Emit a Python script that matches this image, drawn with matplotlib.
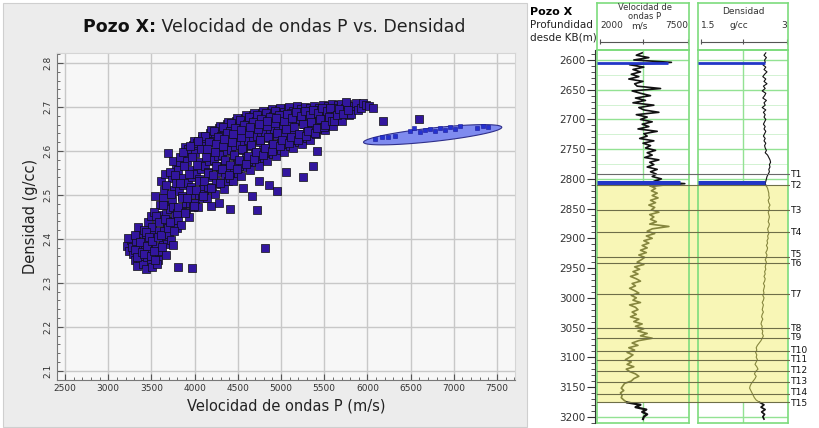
import numpy as np
import matplotlib.pyplot as plt
from matplotlib.patches import Rectangle
from matplotlib.ticker import MultipleLocator, FormatStrFormatter

# ---- crossplot: P-wave velocity (m/s) vs bulk density (g/cc) ----
vp_cloud = [
    3215, 3240, 3265, 3290, 3230, 3275,
    3305, 3320, 3340, 3355, 3370, 3385, 3310, 3345, 3395, 3330,
    3405, 3420, 3435, 3450, 3465, 3480, 3495, 3415, 3440, 3470, 3490, 3425,
    3505, 3520, 3535, 3550, 3565, 3580, 3595, 3510, 3545, 3570, 3590, 3525, 3560,
    3605, 3620, 3635, 3650, 3665, 3680, 3695, 3615, 3640, 3660, 3685, 3630, 3670, 3690,
    3705, 3720, 3735, 3750, 3765, 3780, 3795, 3710, 3740, 3770, 3790, 3725, 3745, 3755,
    3805, 3820, 3835, 3850, 3865, 3880, 3895, 3810, 3840, 3870, 3890, 3825, 3855, 3812,
    3905, 3920, 3935, 3950, 3965, 3980, 3995, 3910, 3940, 3970, 3990, 3925, 3955, 3985, 3965,
    4005, 4020, 4035, 4050, 4065, 4080, 4095, 4010, 4040, 4070, 4090, 4025, 4055, 4085,
    4105, 4120, 4135, 4150, 4165, 4180, 4195, 4110, 4140, 4170, 4190, 4125, 4155, 4185,
    4205, 4220, 4235, 4250, 4265, 4280, 4295, 4210, 4240, 4270, 4290, 4225, 4255, 4285,
    4305, 4320, 4335, 4350, 4365, 4380, 4395, 4310, 4340, 4370, 4390, 4325, 4355, 4385,
    4405, 4420, 4435, 4450, 4465, 4480, 4495, 4410, 4440, 4470, 4490, 4425, 4455, 4415,
    4505, 4520, 4535, 4550, 4565, 4580, 4595, 4510, 4540, 4570, 4590, 4525, 4555, 4560,
    4605, 4620, 4635, 4650, 4665, 4680, 4695, 4610, 4640, 4670, 4690, 4625, 4655, 4660,
    4705, 4720, 4735, 4750, 4765, 4780, 4795, 4710, 4740, 4770, 4790, 4725, 4755, 4722, 4745,
    4805, 4820, 4835, 4850, 4865, 4880, 4895, 4810, 4840, 4870, 4890, 4825, 4855, 4812, 4860,
    4905, 4920, 4935, 4950, 4965, 4980, 4995, 4910, 4940, 4970, 4990, 4925, 4955, 4948,
    5005, 5020, 5035, 5050, 5065, 5080, 5095, 5010, 5040, 5070, 5090, 5025, 5060,
    5105, 5120, 5135, 5150, 5165, 5180, 5195, 5110, 5140, 5170, 5190, 5125,
    5205, 5220, 5235, 5250, 5265, 5280, 5295, 5210, 5240, 5270, 5255,
    5305, 5320, 5335, 5350, 5365, 5380, 5395, 5310, 5340, 5372,
    5405, 5420, 5435, 5450, 5465, 5480, 5495, 5415, 5445, 5422,
    5505, 5525, 5545, 5565, 5585, 5515, 5555, 5595,
    5605, 5630, 5655, 5680, 5615, 5665, 5695,
    5710, 5735, 5760, 5785, 5750,
    5810, 5840, 5870, 5895,
    5920, 5950, 5985, 6020, 6060, 6180, 6600,
    # core of the trend
    3312, 3338, 3362, 3388,
    3412, 3432, 3452, 3472, 3492,
    3512, 3532, 3552, 3572, 3592, 3542,
    3612, 3632, 3652, 3672, 3692, 3622,
    3712, 3732, 3752, 3772, 3792, 3762,
    3812, 3832, 3852, 3872, 3892, 3862,
    3912, 3932, 3952, 3972, 3992, 3942,
    4012, 4032, 4052, 4072, 4092, 4042,
    4112, 4132, 4152, 4172, 4192, 4142,
    4212, 4232, 4252, 4272, 4292, 4242,
    4312, 4332, 4352, 4372, 4392, 4342,
    4412, 4432, 4452, 4472, 4492, 4442,
    4512, 4532, 4552, 4572, 4592, 4542,
    4612, 4632, 4652, 4672, 4692, 4642,
    4712, 4732, 4752, 4772, 4792, 4742,
    4812, 4832, 4852, 4872, 4892, 4842,
    4912, 4932, 4952, 4972, 4992, 4942,
    5012, 5032, 5052, 5072, 5092,
    5112, 5132, 5152, 5172, 5192,
    5212, 5232, 5252, 5272, 5292,
    5312, 5332, 5352, 5372, 5392,
    5412, 5432, 5452, 5472, 5492,
    5512, 5532, 5552, 5572, 5592,
    5612, 5642, 5672,
    5722, 5772,
]
rho_cloud = [
    2.385, 2.372, 2.398, 2.366, 2.402, 2.381,
    2.352, 2.395, 2.368, 2.414, 2.347, 2.382, 2.408, 2.426, 2.362, 2.339,
    2.342, 2.376, 2.405, 2.358, 2.438, 2.392, 2.349, 2.421, 2.332, 2.372, 2.452, 2.394,
    2.335, 2.362, 2.412, 2.384, 2.446, 2.353, 2.478, 2.428, 2.497, 2.371, 2.419, 2.462, 2.342,
    2.372, 2.455, 2.398, 2.512, 2.364, 2.436, 2.478, 2.532, 2.418, 2.548, 2.389, 2.494, 2.457, 2.596,
    2.412, 2.468, 2.538, 2.441, 2.512, 2.566, 2.425, 2.552, 2.489, 2.453, 2.528, 2.397, 2.386, 2.578,
    2.442, 2.508, 2.574, 2.463, 2.538, 2.592, 2.481, 2.556, 2.431, 2.522, 2.608, 2.586, 2.497, 2.336,
    2.462, 2.528, 2.594, 2.481, 2.557, 2.613, 2.502, 2.578, 2.451, 2.541, 2.622, 2.604, 2.517, 2.472, 2.334,
    2.482, 2.548, 2.612, 2.501, 2.574, 2.628, 2.521, 2.596, 2.472, 2.559, 2.635, 2.619, 2.537, 2.492,
    2.502, 2.566, 2.628, 2.519, 2.591, 2.641, 2.541, 2.612, 2.492, 2.578, 2.647, 2.634, 2.553, 2.476,
    2.514, 2.579, 2.638, 2.531, 2.604, 2.652, 2.552, 2.623, 2.503, 2.589, 2.657, 2.645, 2.566, 2.481,
    2.526, 2.591, 2.648, 2.542, 2.616, 2.661, 2.563, 2.634, 2.514, 2.601, 2.667, 2.655, 2.578, 2.532,
    2.538, 2.602, 2.657, 2.553, 2.627, 2.669, 2.574, 2.645, 2.531, 2.612, 2.675, 2.664, 2.589, 2.467,
    2.551, 2.613, 2.664, 2.566, 2.637, 2.676, 2.586, 2.654, 2.543, 2.623, 2.681, 2.671, 2.602, 2.516,
    2.563, 2.624, 2.671, 2.578, 2.646, 2.682, 2.597, 2.661, 2.556, 2.633, 2.687, 2.677, 2.612, 2.498,
    2.574, 2.634, 2.677, 2.589, 2.655, 2.687, 2.607, 2.668, 2.567, 2.643, 2.691, 2.682, 2.621, 2.465, 2.532,
    2.584, 2.643, 2.682, 2.598, 2.662, 2.691, 2.616, 2.674, 2.578, 2.651, 2.695, 2.687, 2.629, 2.380, 2.523,
    2.594, 2.651, 2.686, 2.607, 2.668, 2.694, 2.624, 2.679, 2.588, 2.658, 2.698, 2.691, 2.637, 2.509,
    2.603, 2.658, 2.689, 2.616, 2.673, 2.697, 2.632, 2.683, 2.598, 2.664, 2.700, 2.641, 2.552,
    2.612, 2.664, 2.692, 2.624, 2.677, 2.699, 2.639, 2.686, 2.607, 2.669, 2.702, 2.648,
    2.621, 2.671, 2.695, 2.632, 2.681, 2.701, 2.647, 2.689, 2.615, 2.662, 2.542,
    2.629, 2.676, 2.697, 2.641, 2.685, 2.703, 2.655, 2.692, 2.624, 2.566,
    2.638, 2.681, 2.699, 2.649, 2.689, 2.705, 2.663, 2.694, 2.671, 2.601,
    2.648, 2.687, 2.703, 2.662, 2.694, 2.675, 2.681, 2.706,
    2.657, 2.691, 2.704, 2.671, 2.699, 2.683, 2.708,
    2.668, 2.697, 2.706, 2.681, 2.711,
    2.685, 2.702, 2.709, 2.694,
    2.697, 2.710, 2.704, 2.702, 2.698, 2.668, 2.672,
    # core of the trend
    2.375, 2.358, 2.392, 2.371,
    2.365, 2.415, 2.385, 2.405, 2.362,
    2.395, 2.372, 2.452, 2.405, 2.438, 2.352,
    2.408, 2.478, 2.445, 2.522, 2.425, 2.382,
    2.438, 2.502, 2.472, 2.545, 2.458, 2.418,
    2.472, 2.528, 2.492, 2.566, 2.458, 2.598,
    2.492, 2.548, 2.512, 2.586, 2.475, 2.612,
    2.512, 2.568, 2.532, 2.604, 2.498, 2.623,
    2.532, 2.586, 2.551, 2.621, 2.515, 2.604,
    2.545, 2.598, 2.566, 2.632, 2.528, 2.617,
    2.558, 2.611, 2.579, 2.642, 2.546, 2.628,
    2.568, 2.621, 2.592, 2.652, 2.558, 2.638,
    2.579, 2.632, 2.604, 2.659, 2.571, 2.648,
    2.589, 2.642, 2.614, 2.665, 2.582, 2.655,
    2.598, 2.651, 2.624, 2.672, 2.592, 2.662,
    2.607, 2.658, 2.632, 2.678, 2.601, 2.668,
    2.616, 2.664, 2.641, 2.681, 2.611, 2.674,
    2.624, 2.669, 2.649, 2.685, 2.618,
    2.632, 2.674, 2.655, 2.688, 2.626,
    2.639, 2.679, 2.661, 2.691, 2.634,
    2.646, 2.683, 2.667, 2.694, 2.641,
    2.652, 2.686, 2.673, 2.697, 2.654,
    2.659, 2.691, 2.678, 2.699, 2.668,
    2.668, 2.682, 2.695,
    2.684, 2.694,
]

# samples inside the selection ellipse
vp_sel = [6090, 6170, 6240, 6320, 6490, 6540, 6610, 6665, 6725,
          6780, 6840, 6900, 6955, 7015, 7070, 7270, 7340, 7400]
rho_sel = [2.627, 2.631, 2.631, 2.634, 2.645, 2.652, 2.643, 2.647, 2.650,
           2.645, 2.652, 2.647, 2.654, 2.650, 2.656, 2.652, 2.656, 2.654]
sel_center = (6755, 2.637)
sel_major = (800, 0.017)
sel_minor = (0, 0.0155)

# ---- well logs, sampled every 4 m from 2588 m ----
log_start, log_step = 2588, 4
vp_log = [
    4700, 4350, 5100, 4200, 6450, 3950, 4800, 4150, 4600, 4050,
    4500, 3900, 4750, 4250, 4400, 5800, 4100, 4600, 5200, 4300,
    4900, 4150, 5400, 4500, 4800, 5700, 4350, 5000, 4600, 5300,
    4700, 5100, 4450, 5600, 4800, 5000, 4550, 5400, 4750, 5200,
    4900, 5500, 5000, 5300, 4850, 5700, 5150, 5400, 5000, 5600,
    5200, 5550, 5300, 5850, 5400, 7250, 5200, 5500, 5250, 5600,
    5300, 5650, 5200, 5500, 5100, 5450, 5250, 5700, 5150, 5400,
    5200, 5550, 5150, 6300, 5300, 5000, 5450, 4950, 5300, 4800,
    5100, 4700, 5000, 4600, 4950, 4500, 4850, 4650, 4400, 4800,
    4250, 4550, 4150, 4450, 4000, 4350, 4600, 4100, 4300, 3950,
    4250, 4500, 4050, 4350, 4150, 4600, 3950, 4300, 4450, 4100,
    4350, 4000, 4500, 4200, 4700, 4300, 4800, 4450, 5000, 4600,
    5300, 4500, 4100, 4450, 3900, 4250, 3800, 4150, 3950, 3700,
    4050, 3800, 4200, 3750, 3950, 4300, 4500, 4200, 4050, 3650,
    3550, 3450, 3600, 3400, 3500, 3450, 3600, 3800, 4600, 4300,
    4950, 4700, 5000, 4800, 4750,
]
rho_log = [
    2.63, 2.60, 2.64, 2.61, 2.62, 2.58, 2.63, 2.60, 2.65, 2.61,
    2.58, 2.63, 2.60, 2.65, 2.59, 2.62, 2.57, 2.63, 2.61, 2.58,
    2.64, 2.60, 2.62, 2.57, 2.63, 2.59, 2.62, 2.60, 2.63, 2.61,
    2.59, 2.62, 2.60, 2.63, 2.61, 2.59, 2.62, 2.60, 2.63, 2.61,
    2.62, 2.64, 2.62, 2.66, 2.68, 2.70, 2.71, 2.69, 2.70, 2.68,
    2.69, 2.67, 2.65, 2.64, 2.63, 2.62, 2.64, 2.66, 2.67, 2.68,
    2.68, 2.69, 2.67, 2.68, 2.70, 2.68, 2.69, 2.67, 2.68, 2.69,
    2.68, 2.67, 2.69, 2.68, 2.66, 2.67, 2.68, 2.66, 2.67, 2.65,
    2.66, 2.64, 2.66, 2.65, 2.63, 2.65, 2.64, 2.62, 2.64, 2.63,
    2.62, 2.63, 2.61, 2.62, 2.60, 2.62, 2.61, 2.59, 2.61, 2.60,
    2.59, 2.60, 2.58, 2.60, 2.59, 2.57, 2.59, 2.58, 2.57, 2.59,
    2.57, 2.56, 2.58, 2.56, 2.55, 2.57, 2.56, 2.58, 2.57, 2.59,
    2.57, 2.55, 2.52, 2.49, 2.47, 2.48, 2.46, 2.48, 2.47, 2.49,
    2.47, 2.45, 2.48, 2.50, 2.46, 2.44, 2.47, 2.45, 2.42, 2.39,
    2.37, 2.36, 2.38, 2.40, 2.42, 2.44, 2.47, 2.53, 2.60, 2.55,
    2.62, 2.56, 2.61, 2.58, 2.60,
]

# formation tops (m); label_depths keeps crowded labels readable
top_names = ['T1', 'T2', 'T3', 'T4', 'T5', 'T6', 'T7', 'T8',
             'T9', 'T10', 'T11', 'T12', 'T13', 'T14', 'T15']
top_depths = [2792, 2811, 2853, 2890, 2932, 2941, 2994, 3051,
              3067, 3089, 3104, 3123, 3141, 3162, 3175]
label_depths = [2792, 2811, 2853, 2890, 2928, 2943, 2994, 3051,
                3067, 3088, 3104, 3123, 3141, 3159, 3177]
zone_top, zone_base = 2811, 3176

# flagged samples shown as horizontal bars on the logs
flag_depths = [2605.6, 2807.5]
flag_vp = [6250, 6960]
flag_rho = [2.62, 2.62]
flag_widths = [2.0, 3.6]

W, H = 819, 428
fig = plt.figure(figsize=(W / 100, H / 100), dpi=100)


def box(left, top, right, bottom):
    return [left / W, 1 - bottom / H, (right - left) / W, (bottom - top) / H]


# grey background panel behind the crossplot
fig.patches.append(Rectangle((3 / W, 1 - 427 / H), 524 / W, 424 / H,
                             transform=fig.transFigure, facecolor='#ececec',
                             edgecolor='#cfcfcf', lw=0.8, zorder=-1))

# ---------------- crossplot ----------------
ax = fig.add_axes(box(57, 53, 515, 380), zorder=1)
ax.set_facecolor('#f7f7f7')
ax.set_xlim(2407, 7708)
ax.set_ylim(2.079, 2.823)
ax.set_xticks(range(2500, 7501, 500))
ax.set_yticks(np.arange(2.1, 2.81, 0.1))
ax.yaxis.set_major_formatter(FormatStrFormatter('%.1f'))
ax.xaxis.set_minor_locator(MultipleLocator(100))
ax.yaxis.set_minor_locator(MultipleLocator(0.02))
ax.grid(which='major', color='#c8c8c8', lw=1.0)
ax.set_axisbelow(True)
ax.tick_params(which='both', direction='in', colors='#555', labelcolor='#333',
               labelsize=6.5, pad=3)
ax.tick_params(which='major', length=4)
ax.tick_params(which='minor', length=2)
for lab in ax.get_yticklabels():
    lab.set_rotation(90)
    lab.set_va('center')
for side in ['top', 'right']:
    ax.spines[side].set_color('#d5d5d5')
for side in ['left', 'bottom']:
    ax.spines[side].set_color('#777')
    ax.spines[side].set_linewidth(0.8)

# selection ellipse
t = np.linspace(0, 2 * np.pi, 200)
ex = sel_center[0] + np.cos(t) * sel_major[0] + np.sin(t) * sel_minor[0]
ey = sel_center[1] + np.cos(t) * sel_major[1] + np.sin(t) * sel_minor[1]
ax.fill(ex, ey, facecolor='#7f8bef', edgecolor='#2f2f8a', lw=0.8, zorder=2)

ax.scatter(vp_cloud, rho_cloud, marker='s', s=28, c='#32169e',
           edgecolors='#0e0e0e', linewidths=0.5, zorder=3)
ax.scatter(vp_sel, rho_sel, marker='s', s=9, c='#2431d0',
           edgecolors='#1a1a9a', linewidths=0.4, zorder=4)

ax.set_xlabel('Velocidad de ondas P (m/s)', fontsize=10.5, color='#222', labelpad=4)
ax.set_ylabel('Densidad (g/cc)', fontsize=10.5, color='#222', labelpad=4)

t1 = fig.text(83 / W, 1 - 27 / H, 'Pozo X:', fontsize=12.5, weight='bold',
              va='center', ha='left', color='#111')
ax.annotate(' Velocidad de ondas P vs. Densidad', xy=(1, 0), xycoords=t1,
            va='bottom', ha='left', fontsize=12.5, color='#222',
            annotation_clip=False)

# ---------------- well log panel ----------------
depth = np.arange(len(vp_log)) * log_step + log_start
vp_arr = np.array(vp_log)
rho_arr = np.array(rho_log)
above = depth <= zone_top + 1
inside = (depth >= zone_top + 1) & (depth <= zone_base)
below = depth >= zone_base

dlim = (3210.6, 2583.2)
green = '#7ddc7d'
yellow = '#f8f6b6'
olive = '#86863e'

fig.text(530 / W, 1 - 12 / H, 'Pozo X', fontsize=8, weight='bold', va='center')
fig.text(530 / W, 1 - 25 / H, 'Profundidad', fontsize=7.5, va='center', color='#222')
fig.text(530 / W, 1 - 38 / H, 'desde KB(m)', fontsize=7.5, va='center', color='#222')

# yellow fill across the gap between the tracks
ax_gap = fig.add_axes(box(597, 50, 788, 423), zorder=0)
ax_gap.set_ylim(*dlim)
ax_gap.axhspan(zone_top, zone_base, color=yellow, lw=0)
ax_gap.axis('off')

tracks = [
    ('vp', box(597, 50, 689, 423), (2000, 7500), vp_arr, flag_vp),
    ('rho', box(698, 50, 788, 423), (1.5, 3.0), rho_arr, flag_rho),
]
for name, pos, xlim, values, flags in tracks:
    tax = fig.add_axes(pos, zorder=1)
    tax.set_facecolor('white')
    tax.set_xlim(*xlim)
    tax.set_ylim(*dlim)
    tax.set_xticks([])
    tax.set_yticks([])
    for s in tax.spines.values():
        s.set_color(green)
        s.set_linewidth(1.2)
    for d in range(2625, 3201, 50):
        tax.axhline(d, color='#d2f2d2', lw=0.7, zorder=0.5)
    for d in range(2600, 3201, 50):
        tax.axhline(d, color='#93e293', lw=1.0, zorder=0.6)
    tax.axvline(sum(xlim) / 2, color='#93e293', lw=1.0, zorder=0.6)
    tax.axhspan(zone_top, zone_base, color=yellow, lw=0, zorder=1)
    lw = 1.2 if name == 'vp' else 0.8
    tax.plot(values[above], depth[above], color='#111', lw=lw, zorder=3)
    tax.plot(values[inside], depth[inside], color=olive, lw=lw, zorder=3)
    tax.plot(values[below], depth[below], color='#111', lw=lw + 0.4, zorder=3)
    for d, v, w in zip(flag_depths, flags, flag_widths):
        tax.hlines(d, xlim[0], v, color='#2236c8', lw=w, zorder=4)

# header boxes above the tracks
headers = [
    (597, 689, ['Velocidad de', 'ondas P'], ('2000', 'm/s', '7500')),
    (698, 788, ['Densidad'], ('1.5', 'g/cc', '3')),
]
for left, right, title_lines, scale in headers:
    hax = fig.add_axes(box(left, 3, right, 50), zorder=1)
    hax.set_xlim(0, right - left)
    hax.set_ylim(47, 0)
    hax.set_xticks([])
    hax.set_yticks([])
    hax.patch.set_alpha(0)
    for s in hax.spines.values():
        s.set_color(green)
        s.set_linewidth(1.2)
    mid = (right - left) / 2
    if len(title_lines) == 2:
        hax.text(mid + 2, 5, title_lines[0], fontsize=6.0, ha='center', va='center', color='#333')
        hax.text(mid + 2, 13.5, title_lines[1], fontsize=6.0, ha='center', va='center', color='#333')
    else:
        hax.text(mid, 8, title_lines[0], fontsize=6.5, ha='center', va='center', color='#333')
    hax.text(3, 23, scale[0], fontsize=6.5, ha='left', va='center', color='#333')
    hax.text(mid - 4, 23, scale[1], fontsize=6.5, ha='center', va='center', color='#333')
    hax.text(right - left - 1, 23, scale[2], fontsize=6.5, ha='right', va='center', color='#333')
    hax.plot([3, right - left - 1], [39, 39], color='#555', lw=0.8)
    hax.vlines([3, mid, right - left - 1], 36, 41, color='#555', lw=0.8)

# depth axis
ax_d = fig.add_axes(box(595, 50, 596, 423), zorder=1)
ax_d.set_ylim(*dlim)
ax_d.set_xticks([])
ax_d.yaxis.set_major_locator(MultipleLocator(50))
ax_d.yaxis.set_minor_locator(MultipleLocator(10))
ax_d.tick_params(which='major', length=6, width=0.8, labelsize=7.5,
                 pad=1, colors='#333')
ax_d.tick_params(which='minor', length=3, width=0.6, colors='#333')
for side in ['top', 'right', 'bottom']:
    ax_d.spines[side].set_visible(False)
ax_d.spines['left'].set_color('#333')
ax_d.patch.set_alpha(0)

# formation tops across both tracks
ax_t = fig.add_axes(box(597, 50, 790, 423), zorder=2)
ax_t.set_ylim(*dlim)
ax_t.set_xlim(0, 1)
ax_t.axis('off')
for name, d, ld in zip(top_names, top_depths, label_depths):
    col = '#6a6a6a' if d < zone_top else '#6e6e48'
    ax_t.axhline(d, color=col, lw=0.8)
    ax_t.text(1.005, ld, name, fontsize=6.6, va='center', ha='left',
              color='#111', clip_on=False)

fig.savefig('out.png', dpi=100, facecolor='white')
